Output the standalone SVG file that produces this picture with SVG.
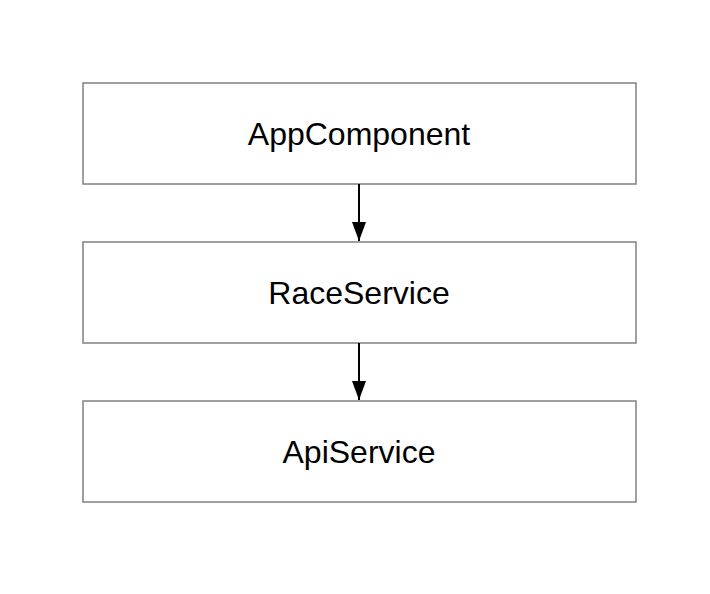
<svg xmlns="http://www.w3.org/2000/svg" width="710" height="594" viewBox="0 0 710 594">
<style>
.box{fill:#fff;stroke:#808080;stroke-width:1.5}
.lbl{font-family:"Liberation Sans",Arial,sans-serif;font-size:32px;fill:#000;text-anchor:middle}
.edge{stroke:#000;stroke-width:2;fill:none}
</style>
<defs>
<marker id="ah" markerUnits="userSpaceOnUse" markerWidth="19" markerHeight="14" refX="19" refY="7" orient="auto" viewBox="0 0 19 14">
<path d="M0,0 L19,7 L0,14 Z" fill="#000"/>
</marker>
</defs>
<rect width="710" height="594" fill="#fff"/>
<g id="app"><rect class="box" x="83" y="83" width="553" height="101"/><text class="lbl" x="359" y="145">AppComponent</text></g>
<g id="race"><rect class="box" x="83" y="242" width="553" height="101"/><text class="lbl" x="359" y="304">RaceService</text></g>
<g id="api"><rect class="box" x="83" y="401" width="553" height="101"/><text class="lbl" x="359" y="463">ApiService</text></g>
<g id="connectors">
<line class="edge" x1="359" y1="184" x2="359" y2="241" marker-end="url(#ah)"/>
<line class="edge" x1="359" y1="343" x2="359" y2="400" marker-end="url(#ah)"/>
</g>
</svg>
